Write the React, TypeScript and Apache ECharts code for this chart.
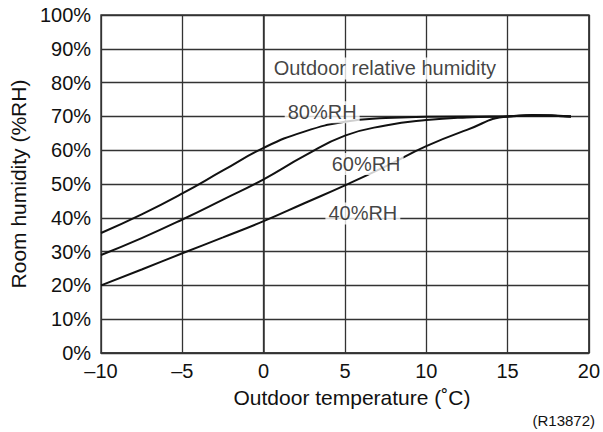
import React, { useEffect, useRef } from "react";
import * as echarts from "echarts";

const temps = [-10, -7.5, -5, -2.5, 0, 2.5, 5, 7.5, 10, 12.5, 15, 16.5, 18.9];
const rh80 = [35.5, 41, 47.2, 54, 60.7, 65.5, 68.4, 69.5, 69.9, 70, 70, 70.4, 70];
const rh60 = [29, 34, 39.5, 45.4, 51.4, 58.3, 64.3, 67.3, 68.9, 69.7, 70, 70.3, 70];
const rh40 = [20, 24.7, 29.5, 34.2, 39, 44.3, 49.6, 55.2, 61.2, 66, 70, 70.3, 70];

const labelTexts = ["80%RH", "60%RH", "40%RH", "Outdoor relative humidity"];
const labelX = [3.6, 6.3, 6.1, 7.45];
const labelY = [71.2, 55.9, 41.3, 84.2];

const xTicks = [-10, -5, 0, 5, 10, 15, 20];
const yTicks = [0, 10, 20, 30, 40, 50, 60, 70, 80, 90, 100];

const FONT = "'Liberation Sans', Arial, Helvetica, sans-serif";
const INK = "#111";

export default function App() {
  const ref = useRef<HTMLDivElement>(null);
  useEffect(() => {
    if (!ref.current) return;
    const chart = echarts.init(ref.current, undefined, { renderer: "svg" });
    const mk = (vals: number[]) => temps.map((t, i) => [t, vals[i]]);
    const lineSeries = (name: string, vals: number[]) => ({
      name,
      type: "line",
      data: mk(vals),
      smooth: 0.5,
      symbol: "none",
      lineStyle: { color: "#111", width: 2 },
      z: 3,
    });
    chart.setOption({
      animation: false,
      backgroundColor: "#fff",
      grid: {
        left: 100,
        right: 13,
        top: 15,
        bottom: 79,
        show: true,
        borderColor: "#333",
        borderWidth: 1.5,
      },
      xAxis: {
        type: "value",
        min: xTicks[0],
        max: xTicks[xTicks.length - 1],
        interval: 5,
        name: "Outdoor temperature (˚C)",
        nameLocation: "middle",
        nameGap: 34,
        nameTextStyle: { fontFamily: FONT, fontSize: 21, color: INK, padding: [0, 0, 0, 14] },
        axisLine: { show: true, lineStyle: { color: "#333", width: 1.5 } },
        axisTick: { show: false },
        axisLabel: {
          fontFamily: FONT,
          fontSize: 20,
          color: INK,
          margin: 8,
          formatter: (v: number) => (v < 0 ? "–" + Math.abs(v) : String(v)),
        },
        splitLine: { show: true, lineStyle: { color: "#333", width: 1.3 } },
      },
      yAxis: {
        type: "value",
        min: yTicks[0],
        max: yTicks[yTicks.length - 1],
        interval: 10,
        name: "Room humidity (%RH)",
        nameLocation: "middle",
        nameGap: 60,
        nameTextStyle: { fontFamily: FONT, fontSize: 21, color: INK },
        axisLine: { show: true, lineStyle: { color: "#333", width: 1.5 } },
        axisTick: { show: false },
        axisLabel: {
          fontFamily: FONT,
          fontSize: 20,
          color: INK,
          margin: 10,
          formatter: "{value}%",
        },
        splitLine: { show: true, lineStyle: { color: "#333", width: 1.3 } },
      },
      series: [
        lineSeries("80%RH", rh80),
        lineSeries("60%RH", rh60),
        lineSeries("40%RH", rh40),
        {
          type: "scatter",
          symbolSize: 0,
          z: 10,
          data: labelTexts.map((t, i) => ({ value: [labelX[i], labelY[i]], name: t })),
          label: {
            show: true,
            position: "inside",
            formatter: (p: any) => p.name,
            fontFamily: FONT,
            fontSize: 20,
            color: INK,
            backgroundColor: "#fff",
            padding: [1, 3],
          },
          emphasis: { disabled: true },
        },
      ],
      graphic: [
        {
          type: "text",
          right: 8,
          bottom: 4,
          style: { text: "(R13872)", fontFamily: FONT, fontSize: 15, fill: INK },
        },
      ],
    });
    return () => chart.dispose();
  }, []);
  return (
    <div
      ref={ref}
      style={{ position: "fixed", left: 0, top: 0, width: 603, height: 432, background: "#fff" }}
    />
  );
}
